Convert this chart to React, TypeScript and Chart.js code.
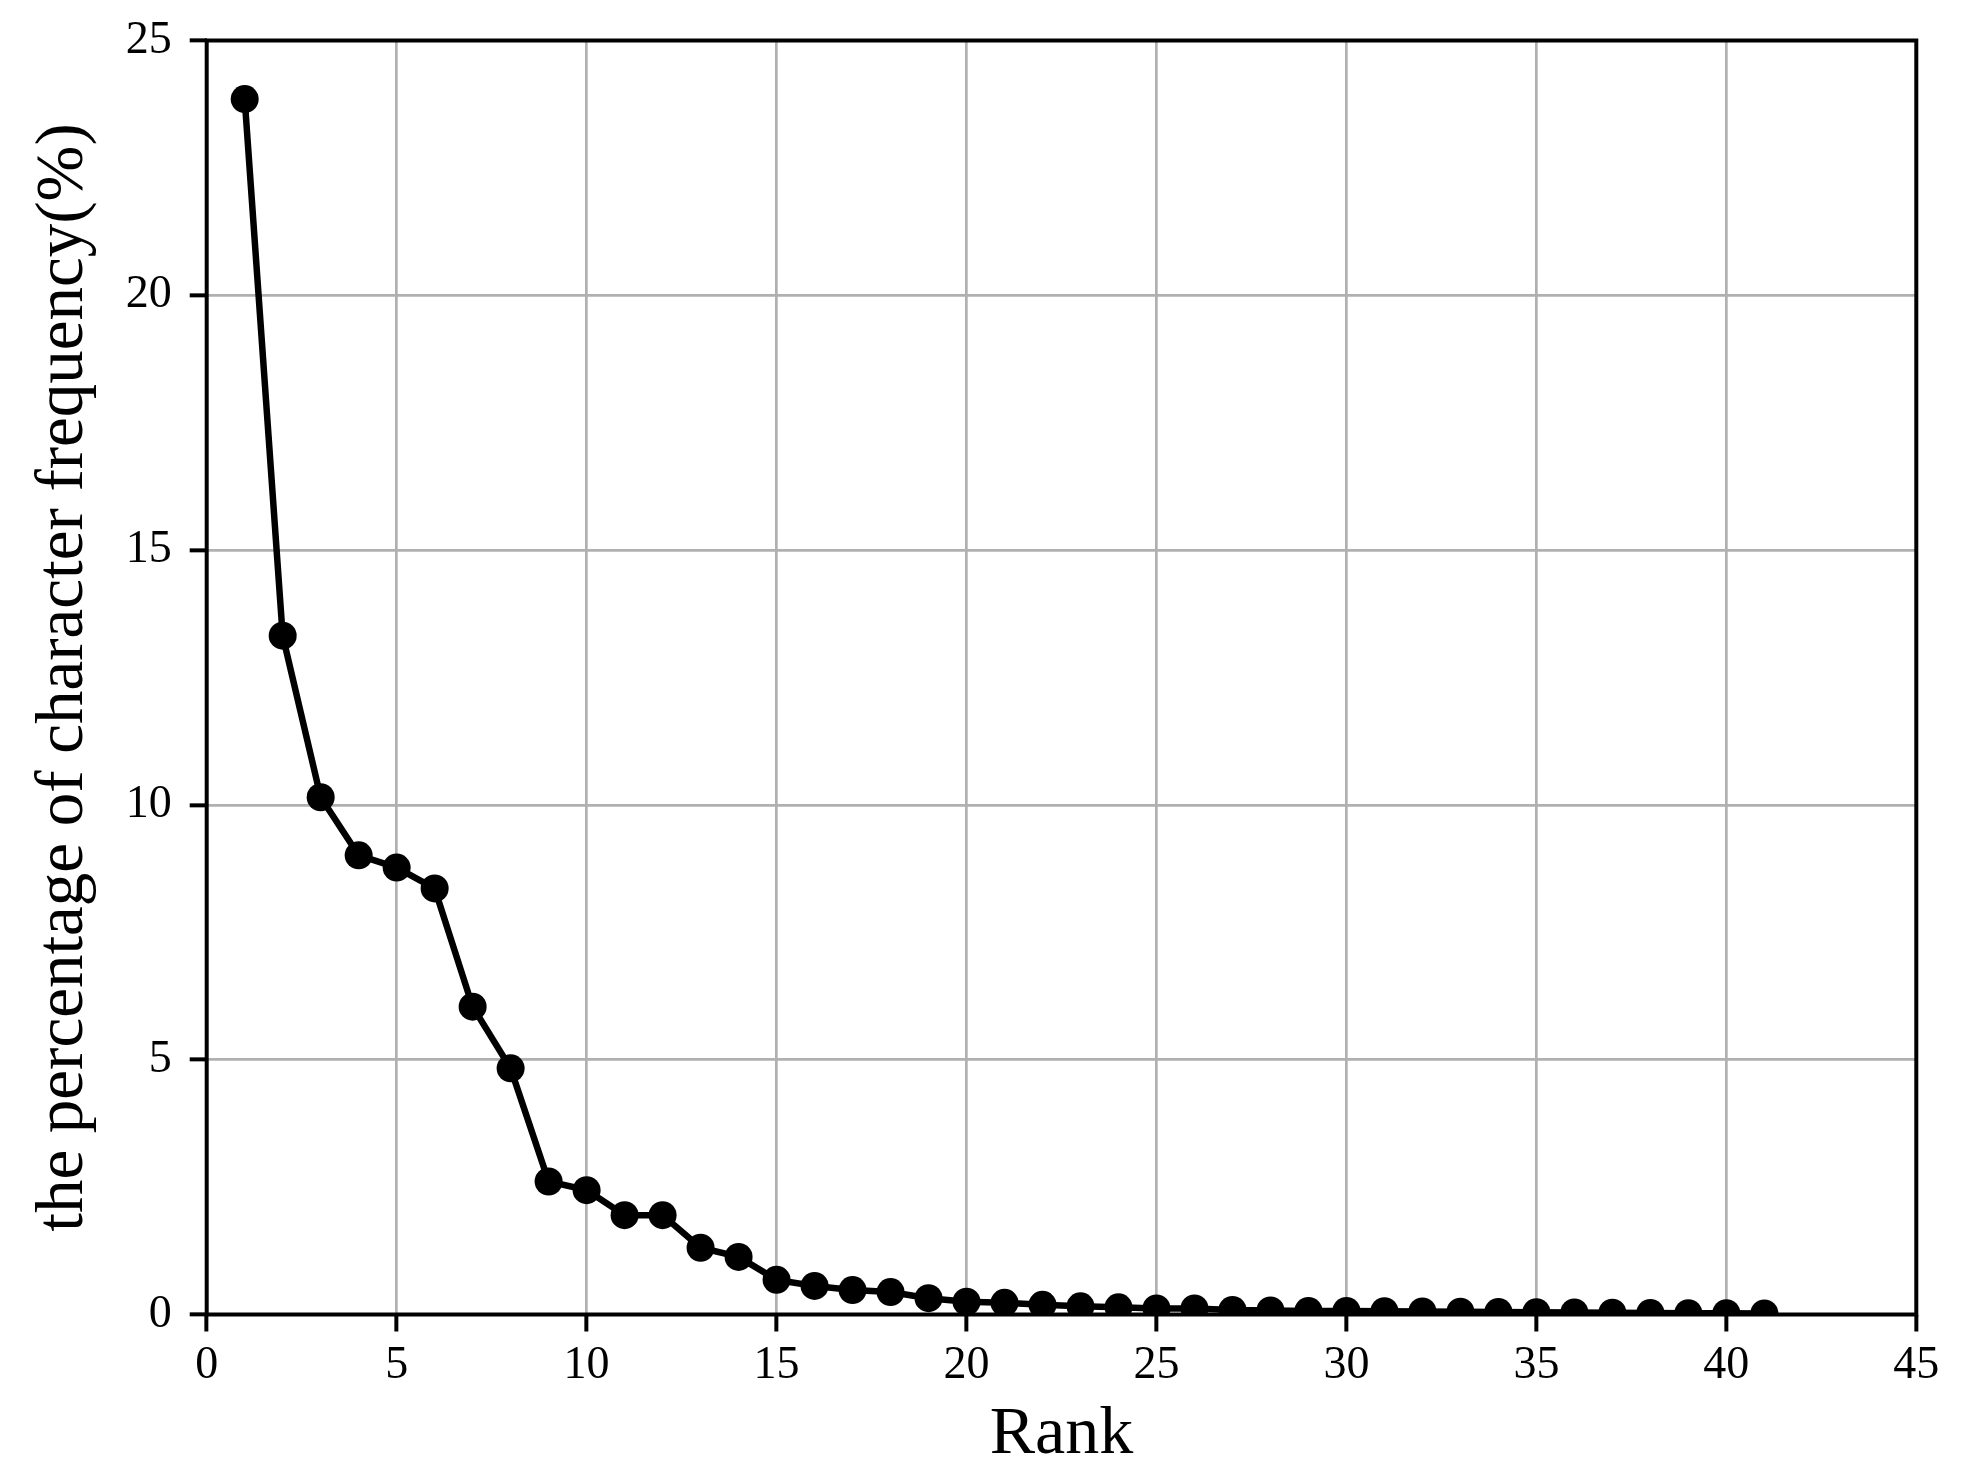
import React, { useEffect, useRef } from "react";
import { Chart, registerables } from "chart.js";

Chart.register(...registerables);

const ranks = [
  1, 2, 3, 4, 5, 6, 7, 8, 9, 10, 11, 12, 13, 14, 15, 16, 17, 18, 19, 20, 21,
  22, 23, 24, 25, 26, 27, 28, 29, 30, 31, 32, 33, 34, 35, 36, 37, 38, 39, 40, 41,
];
const frequency = [
  23.85, 13.32, 10.15, 9.01, 8.77, 8.36, 6.04, 4.83, 2.61, 2.44, 1.95, 1.95,
  1.31, 1.13, 0.68, 0.56, 0.48, 0.44, 0.32, 0.25, 0.23, 0.19, 0.16, 0.14, 0.12,
  0.12, 0.09, 0.08, 0.07, 0.07, 0.065, 0.06, 0.055, 0.05, 0.045, 0.04, 0.035,
  0.03, 0.025, 0.025, 0.02,
];
const xTicks = [0, 5, 10, 15, 20, 25, 30, 35, 40, 45];
const yTicks = [0, 5, 10, 15, 20, 25];
const xTitle = "Rank";
const yTitle = "the percentage of character frequency(%)";

const W = 1964;
const H = 1484;
const FONT = "'Liberation Serif', 'Times New Roman', serif";

const framePlugin = {
  id: "frame",
  afterDraw(chart: any) {
    const { ctx, chartArea } = chart;
    ctx.save();
    ctx.strokeStyle = "#000";
    ctx.lineWidth = 4;
    ctx.strokeRect(
      chartArea.left,
      chartArea.top,
      chartArea.right - chartArea.left,
      chartArea.bottom - chartArea.top
    );
    ctx.restore();
  },
};

export default function App() {
  const ref = useRef<HTMLCanvasElement>(null);

  useEffect(() => {
    if (!ref.current) return;
    const chart = new Chart(ref.current, {
      type: "line",
      data: {
        datasets: [
          {
            data: ranks.map((r, i) => ({ x: r, y: frequency[i] })),
            borderColor: "#000",
            backgroundColor: "#000",
            borderWidth: 6.5,
            pointRadius: 14,
            pointBorderWidth: 0,
            pointBackgroundColor: "#000",
            pointHoverRadius: 14,
            tension: 0,
            clip: 0,
          } as any,
        ],
      },
      options: {
        animation: false,
        responsive: false,
        devicePixelRatio: 1,
        events: [],
        layout: { padding: { top: 40.5, right: 47.7, left: 0, bottom: 0 } },
        plugins: { legend: { display: false }, tooltip: { enabled: false } },
        scales: {
          x: {
            type: "linear",
            min: 0,
            max: 45,
            afterBuildTicks: (s: any) => {
              s.ticks = xTicks.map((v) => ({ value: v }));
            },
            afterFit: (s: any) => {
              s.height = H - 1314.5;
              s.paddingLeft = 0;
              s.paddingRight = 0;
            },
            ticks: {
              color: "#000",
              padding: 7,
              font: { family: FONT, size: 46 },
              maxRotation: 0,
              autoSkip: false,
            },
            grid: {
              color: "#b0b0b0",
              lineWidth: 2.7,
              drawTicks: true,
              tickLength: 17,
              tickColor: "#000",
              tickWidth: 4,
            },
            border: { display: false },
            title: {
              display: true,
              text: xTitle,
              color: "#000",
              font: { family: FONT, size: 68 },
              padding: { top: 0, bottom: 8 },
            },
          },
          y: {
            type: "linear",
            min: 0,
            max: 25,
            afterBuildTicks: (s: any) => {
              s.ticks = yTicks.map((v) => ({ value: v }));
            },
            afterFit: (s: any) => {
              s.width = 206.7;
              s.paddingTop = 0;
              s.paddingBottom = 0;
            },
            ticks: {
              color: "#000",
              padding: 18,
              font: { family: FONT, size: 46 },
              autoSkip: false,
            },
            grid: {
              color: "#b0b0b0",
              lineWidth: 2.7,
              drawTicks: true,
              tickLength: 17,
              tickColor: "#000",
              tickWidth: 4,
            },
            border: { display: false },
            title: {
              display: true,
              text: yTitle,
              color: "#000",
              font: { family: FONT, size: 67 },
              padding: { top: 24.5, bottom: 0 },
            },
          },
        },
      },
      plugins: [framePlugin],
    });
    return () => chart.destroy();
  }, []);

  return (
    <div style={{ position: "absolute", left: 0, top: 0, width: W, height: H, background: "#fff" }}>
      <canvas ref={ref} width={W} height={H} style={{ width: W, height: H, display: "block" }} />
    </div>
  );
}
